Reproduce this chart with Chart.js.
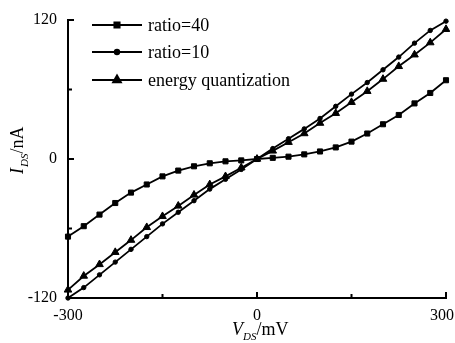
<!DOCTYPE html>
<html>
<head>
<meta charset="utf-8">
<title>I-V characteristics</title>
<script src="https://cdn.jsdelivr.net/npm/chart.js@4/dist/chart.umd.min.js"></script>
<style>
  html, body { margin: 0; padding: 0; background: #fff; }
  #wrap { width: 455px; height: 343px; position: relative; }
</style>
</head>
<body>
<div id="wrap"><canvas id="iv"></canvas></div>
<script>
// V_DS sweep (mV)
const vds = [-300, -275, -250, -225, -200, -175, -150, -125, -100, -75, -50, -25, 0,
             25, 50, 75, 100, 125, 150, 175, 200, 225, 250, 275, 300];

// I_DS (nA)
const ratio40 = [-67, -58, -48, -38, -29, -22, -15, -10, -6.3, -3.7, -2, -1.2, 0,
                 1, 2, 4, 6.5, 10, 15, 22, 30, 38, 48, 57, 68];
const ratio10 = [-120, -111, -100, -89, -78, -67, -56, -46, -36, -26, -17.5, -9, 0,
                 9, 17.5, 26, 35, 45.5, 56, 66, 77, 88, 100, 111, 119];
const energyQ = [-113, -101, -91, -80.5, -70, -59, -49.5, -40.5, -31, -22, -15, -7.5, 0,
                 7, 14.5, 22, 31, 39.5, 49, 58.5, 69, 80, 90, 100.5, 112];

const seriesNames = ["ratio=40", "ratio=10", "energy quantization"];
const xTickLabels = [-300, 0, 300];
const xMinorTicks = [-150, 150];
const yMinorTicks = [-60, 60];

const SERIF = "'Liberation Serif', 'Times New Roman', serif";

const toPts = (ys) => vds.map((x, i) => ({ x: x, y: ys[i] }));

// ticks pointing inward + x labels + axis titles + in-plot legend
const decorPlugin = {
  id: "decor",
  afterDraw(chart) {
    const ctx = chart.ctx;
    const xs = chart.scales.x, ys = chart.scales.y;
    const left = chart.chartArea.left, bottom = chart.chartArea.bottom;
    ctx.save();
    ctx.strokeStyle = "#000";
    ctx.lineWidth = 2;
    ctx.beginPath();
    xTickLabels.forEach((v) => {
      const px = xs.getPixelForValue(v);
      ctx.moveTo(px, bottom); ctx.lineTo(px, bottom - 6);
    });
    xMinorTicks.forEach((v) => {
      const px = xs.getPixelForValue(v);
      ctx.moveTo(px, bottom); ctx.lineTo(px, bottom - 4);
    });
    ys.ticks.forEach((t) => {
      const py = ys.getPixelForValue(t.value);
      ctx.moveTo(left, py); ctx.lineTo(left + 6, py);
    });
    yMinorTicks.forEach((v) => {
      const py = ys.getPixelForValue(v);
      ctx.moveTo(left, py); ctx.lineTo(left + 4, py);
    });
    ctx.stroke();

    // x tick labels
    ctx.fillStyle = "#000";
    ctx.font = "16px " + SERIF;
    ctx.textBaseline = "alphabetic";
    xTickLabels.forEach((v, i) => {
      let px = xs.getPixelForValue(v);
      if (i === xTickLabels.length - 1) { ctx.textAlign = "right"; px = 454; }
      else ctx.textAlign = "center";
      ctx.fillText(String(v), px, 320);
    });

    // x title: V_DS/mV
    ctx.textAlign = "left";
    let x = 232;
    ctx.font = "italic 18px " + SERIF;
    ctx.fillText("V", x, 335); x += ctx.measureText("V").width;
    ctx.font = "italic 11px " + SERIF;
    ctx.fillText("DS", x, 340); x += ctx.measureText("DS").width;
    ctx.font = "18px " + SERIF;
    ctx.fillText("/mV", x, 335);

    // y title: I_DS/nA (rotated)
    ctx.save();
    ctx.translate(23, 174);
    ctx.rotate(-Math.PI / 2);
    let y = 0;
    ctx.font = "italic 18px " + SERIF;
    ctx.fillText("I", y, 0); y += ctx.measureText("I").width + 1;
    ctx.font = "italic 11px " + SERIF;
    ctx.fillText("DS", y, 5); y += ctx.measureText("DS").width;
    ctx.font = "18px " + SERIF;
    ctx.fillText("/nA", y, 0);
    ctx.restore();

    // legend
    const rows = [25, 52, 80];
    ctx.font = "18px " + SERIF;
    ctx.textBaseline = "middle";
    chart.data.datasets.forEach((ds, i) => {
      const ry = rows[i];
      ctx.strokeStyle = "#000";
      ctx.lineWidth = 2;
      ctx.beginPath();
      ctx.moveTo(92, ry); ctx.lineTo(142, ry);
      ctx.stroke();
      ctx.fillStyle = "#000";
      Chart.helpers.drawPoint(ctx, {
        pointStyle: ds.pointStyle, radius: ds.pointRadius, rotation: 0, borderWidth: 1
      }, 117, ry);
      ctx.fill();
      ctx.fillStyle = "#000";
      ctx.fillText(seriesNames[i], 148, ry + 1);
    });
    ctx.restore();
  }
};

const mkSet = (label, ys, style, r) => ({
  label: label,
  data: toPts(ys),
  borderColor: "#000",
  backgroundColor: "#000",
  borderWidth: 1.8,
  pointStyle: style,
  pointRadius: r,
  pointBorderWidth: 1,
  pointBackgroundColor: "#000",
  pointBorderColor: "#000",
  tension: 0,
  clip: 4
});

new Chart(document.getElementById("iv"), {
  type: "line",
  data: {
    datasets: [
      mkSet(seriesNames[0], ratio40, "rect", 3.6),
      mkSet(seriesNames[1], ratio10, "circle", 2.2),
      mkSet(seriesNames[2], energyQ, "triangle", 4.4)
    ]
  },
  options: {
    responsive: true,
    maintainAspectRatio: false,
    animation: false,
    layout: { padding: { left: 0, right: 9, top: 20, bottom: 0 } },
    plugins: { legend: { display: false }, tooltip: { enabled: false } },
    scales: {
      x: {
        type: "linear",
        min: -300, max: 300,
        grid: { display: false },
        border: { display: true, color: "#000", width: 2 },
        ticks: { display: false },
        afterFit(scale) {
          scale.height = 45;
          scale.paddingLeft = 0;
          scale.paddingRight = 0;
        }
      },
      y: {
        type: "linear",
        min: -120, max: 120,
        grid: { display: false },
        border: { display: true, color: "#000", width: 2 },
        ticks: {
          stepSize: 120,
          color: "#000",
          padding: 3,
          font: { family: SERIF, size: 16 }
        },
        afterFit(scale) {
          scale.width = 68;
          scale.paddingTop = 0;
          scale.paddingBottom = 0;
        }
      }
    }
  },
  plugins: [decorPlugin]
});
</script>
</body>
</html>
